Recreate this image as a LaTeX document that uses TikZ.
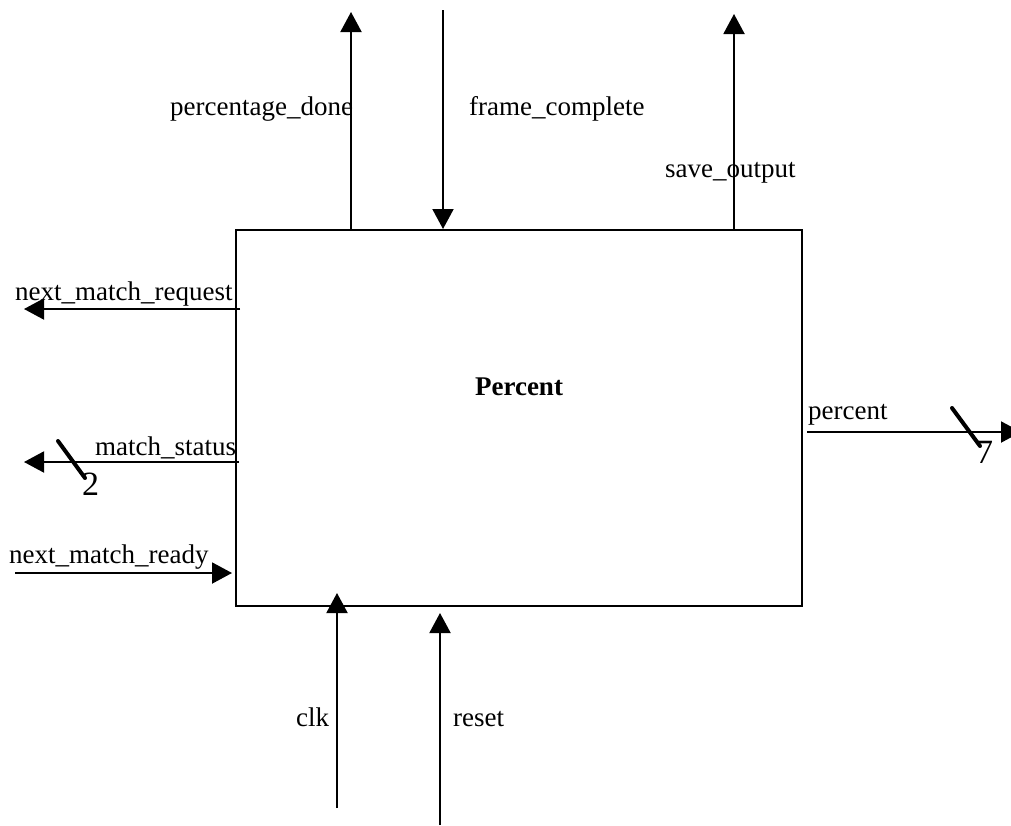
\documentclass[tikz,border=0pt]{standalone}
\usepackage{fontspec}
\setmainfont{Liberation Serif}
\usetikzlibrary{arrows.meta}

\tikzset{
  sig/.style={line width=2pt, -{Triangle[length=20pt,width=21pt]}},
  lbl/.style={inner sep=0pt, font=\fontsize{27}{30}\selectfont},
  bus/.style={line width=4pt, line cap=round},
  buswidth/.style={inner sep=0pt, anchor=base west, font=\fontsize{34}{38}\selectfont},
}

\begin{document}
\begin{tikzpicture}[x=1pt, y=-1pt]
  \useasboundingbox (0,0) rectangle (1011,825);

  % the block
  \node[draw, line width=2pt, minimum width=566pt, minimum height=376pt,
        inner sep=0pt] (blk) at (519,418) {};
  \node[lbl, anchor=base, font=\fontsize{27}{30}\selectfont\bfseries]
       (title) at (519,395) {Percent};

  % free ends of the signal lines
  \coordinate (pdT)  at (351,12);
  \coordinate (fcS)  at (443,10);
  \coordinate (soT)  at (734,14);
  \coordinate (nmqT) at (24,309);
  \coordinate (msT)  at (24,462);
  \coordinate (nmrS) at (15,573);
  \coordinate (pcT)  at (1021,432);
  \coordinate (clkS) at (337,808);
  \coordinate (rstS) at (440,825);

  % top signals
  \draw[sig] (pdT |- blk.north) -- (pdT);
  \draw[sig] (fcS) -- (fcS |- blk.north);
  \draw[sig] (soT |- blk.north) -- (soT);

  % left signals
  \draw[sig] ([xshift=5pt]blk.west |- nmqT) -- (nmqT);
  \draw[sig] ([xshift=4pt]blk.west |- msT) -- (msT);
  \draw[sig] (nmrS) -- ([xshift=-3pt]blk.west |- nmrS);

  % right signal
  \draw[sig] ([xshift=4pt]blk.east |- pcT) -- (pcT);

  % bottom signals
  \draw[sig] (clkS) -- ([yshift=14pt]clkS |- blk.south);
  \draw[sig] (rstS) -- ([yshift=-6pt]rstS |- blk.south);

  % bus width marks
  \coordinate (msA) at (58,441);
  \coordinate (msB) at (85,478);
  \draw[bus] (msA) -- (msB);
  \node[buswidth] (msW) at (82,495) {2};
  \coordinate (pcA) at (952,408);
  \coordinate (pcB) at (980,446);
  \draw[bus] (pcA) -- (pcB);
  \node[buswidth] (pcW) at (976,463) {7};

  % signal names
  \node[lbl, anchor=base west] (lpd)  at (170,115) {percentage\_done};
  \node[lbl, anchor=base west] (lfc)  at (469,115) {frame\_complete};
  \node[lbl, anchor=base west] (lso)  at (665,177) {save\_output};
  \node[lbl, anchor=base west] (lnmq) at (15,300)  {next\_match\_request};
  \node[lbl, anchor=base west] (lms)  at (95,455)  {match\_status};
  \node[lbl, anchor=base west] (lnmr) at (9,563)   {next\_match\_ready};
  \node[lbl, anchor=base west] (lpc)  at (808,419) {percent};
  \node[lbl, anchor=base west] (lclk) at (296,726) {clk};
  \node[lbl, anchor=base west] (lrst) at (453,726) {reset};
\end{tikzpicture}
\end{document}
